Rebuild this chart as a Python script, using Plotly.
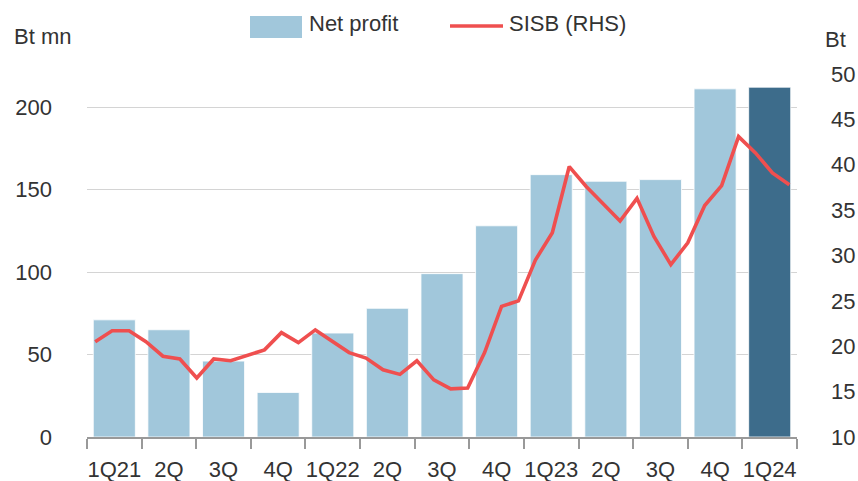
import numpy as np
import plotly.graph_objects as go

# ---- data ----
quarters = ["1Q21", "2Q", "3Q", "4Q", "1Q22", "2Q ", "3Q ", "4Q ", "1Q23", "2Q  ", "3Q  ", "4Q  ", "1Q24"]
tick_text = ["1Q21", "2Q", "3Q", "4Q", "1Q22", "2Q", "3Q", "4Q", "1Q23", "2Q", "3Q", "4Q", "1Q24"]
net_profit = [71, 65, 46, 27, 63, 78, 99, 128, 159, 155, 156, 211, 212]
sisb_price = [20.5, 21.7, 21.7, 20.5, 18.9, 18.6, 16.5, 18.6, 18.4, 19.0, 19.6, 21.5,
              20.4, 21.8, 20.5, 19.3, 18.7, 17.4, 16.9, 18.4, 16.3, 15.3, 15.4, 19.3,
              24.4, 25.0, 29.5, 32.5, 39.8, 37.6, 35.7, 33.8, 36.3, 32.1, 29.0, 31.4,
              35.5, 37.7, 43.1, 41.3, 39.1, 37.8]

LIGHT = "#a1c7db"
DARK = "#3d6c8b"
RED = "#ef4f4f"
TXT = "#333333"
FONT = "Liberation Sans, Arial, sans-serif"

W, H = 858, 481
ML, MR, MT, MB = 87, 61, 74, 44
PW, PH = W - ML - MR, H - MT - MB

def px_x(px):
    return (px - ML) / PW

def px_y(py):
    return (H - MB - py) / PH

colors = [LIGHT] * (len(net_profit) - 1) + [DARK]

fig = go.Figure()
fig.add_trace(go.Bar(x=quarters, y=net_profit, marker=dict(color=colors, line=dict(color="white", width=0.8)),
                     name="Net profit", showlegend=False, xaxis="x", yaxis="y"))

line_x = np.linspace(-0.35, 12.36, len(sisb_price))
fig.add_trace(go.Scatter(x=line_x, y=sisb_price, mode="lines", line=dict(color=RED, width=3.6),
                         name="SISB (RHS)", showlegend=False, xaxis="x2", yaxis="y2"))

fig.update_layout(
    width=W, height=H,
    margin=dict(l=ML, r=MR, t=MT, b=MB),
    plot_bgcolor="white", paper_bgcolor="white",
    font=dict(family=FONT, size=22, color=TXT),
    bargap=0.23,
    xaxis=dict(type="category", tickmode="array", tickvals=quarters, ticktext=tick_text,
               tickson="boundaries", ticks="outside", ticklen=10, tickcolor="#999999", tickwidth=1.5,
               showline=True, linecolor="#999999", linewidth=1.5, showgrid=False,
               tickangle=0, automargin=False, ticklabelstandoff=12,
               range=[-0.5, 12.5], tickfont=dict(size=22, color=TXT)),
    xaxis2=dict(overlaying="x", range=[-0.5, 12.5], visible=False, anchor="y2"),
    yaxis=dict(range=[0, 220], tickvals=[0, 50, 100, 150, 200], showgrid=True, gridcolor="#d4d4d4",
               gridwidth=1, zeroline=False, showline=False, ticks="", ticklabelstandoff=34,
               automargin=False, tickfont=dict(size=22, color=TXT)),
    yaxis2=dict(overlaying="y", side="right", anchor="x2", range=[10, 50], dtick=5, showgrid=False,
                zeroline=False, showline=False, ticks="", ticklabelstandoff=33, automargin=False,
                tickfont=dict(size=22, color=TXT)),
    shapes=[
        dict(type="rect", xref="paper", yref="paper", x0=px_x(250), x1=px_x(302), y0=px_y(38), y1=px_y(16),
             fillcolor=LIGHT, line=dict(width=0)),
        dict(type="line", xref="paper", yref="paper", x0=px_x(450), x1=px_x(503), y0=px_y(26), y1=px_y(26),
             line=dict(color=RED, width=3.6)),
    ],
    annotations=[
        dict(text="Net profit", xref="paper", yref="paper", x=px_x(307), y=px_y(23), xanchor="left",
             yanchor="middle", showarrow=False, font=dict(size=22, color=TXT)),
        dict(text="SISB (RHS)", xref="paper", yref="paper", x=px_x(507), y=px_y(23), xanchor="left",
             yanchor="middle", showarrow=False, font=dict(size=22, color=TXT)),
        dict(text="Bt mn", xref="paper", yref="paper", x=px_x(12), y=px_y(37), xanchor="left",
             yanchor="middle", showarrow=False, font=dict(size=22, color=TXT)),
        dict(text="Bt", xref="paper", yref="paper", x=px_x(823), y=px_y(40), xanchor="left",
             yanchor="middle", showarrow=False, font=dict(size=22, color=TXT)),
    ],
)

fig.write_html("out.html")
